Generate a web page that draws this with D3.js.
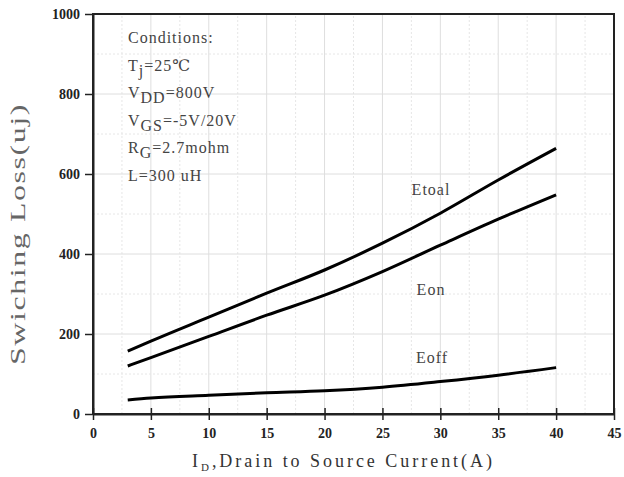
<!DOCTYPE html>
<html>
<head>
<meta charset="utf-8">
<script src="https://cdn.jsdelivr.net/npm/d3@7"></script>
<style>
  body { margin: 0; background: #fff; }
  svg { display: block; }
</style>
</head>
<body>
<svg id="chart" width="624" height="477"></svg>
<script>
// values
var current = [3, 5, 10, 15, 20, 25, 30, 35, 40]
var etotal = [157, 182, 242, 302, 360, 427, 502, 585, 664]
var eon = [120, 141, 194, 247, 297, 356, 422, 487, 548]
var eoff = [35, 40, 47, 53, 58, 67, 81, 97, 116]
var xTicks = [0, 5, 10, 15, 20, 25, 30, 35, 40, 45]
var yTicks = [0, 200, 400, 600, 800, 1000]
var seriesNames = ["Etoal", "Eon", "Eoff"]

var svg = d3.select("#chart")
var width = 624, height = 477
var margin = { top: 14, right: 10, bottom: 63, left: 93 }
var innerW = width - margin.left - margin.right
var innerH = height - margin.top - margin.bottom

var x = d3.scaleLinear().domain([0, 45]).range([margin.left, margin.left + innerW])
var y = d3.scaleLinear().domain([0, 1000]).range([margin.top + innerH, margin.top])

var tickFont = "'Liberation Serif', 'DejaVu Serif', serif"
var textFont = "'Liberation Serif', 'DejaVu Serif', serif"

// grid: solid at major, dotted at half steps
var grid = svg.append("g").attr("class", "grid")
grid.selectAll("line.vx")
    .data(d3.range(2.5, 45, 2.5))
    .enter().append("line")
    .attr("x1", d => x(d)).attr("x2", d => x(d))
    .attr("y1", y(0)).attr("y2", y(1000))
    .attr("stroke", d => d % 5 === 0 ? "#dedede" : "#e6e6e6")
    .attr("stroke-dasharray", d => d % 5 === 0 ? null : "2,2")
    .attr("stroke-width", 1)
grid.selectAll("line.hy")
    .data(d3.range(100, 1000, 100))
    .enter().append("line")
    .attr("x1", x(0)).attr("x2", x(45))
    .attr("y1", d => y(d)).attr("y2", d => y(d))
    .attr("stroke", d => d % 200 === 0 ? "#dedede" : "#e6e6e6")
    .attr("stroke-dasharray", d => d % 200 === 0 ? null : "2,2")
    .attr("stroke-width", 1)

// frame
svg.append("rect")
    .attr("x", x(0)).attr("y", y(1000))
    .attr("width", innerW).attr("height", innerH)
    .attr("fill", "none")
    .attr("stroke", "#222")
    .attr("stroke-width", 2)

// x axis, ticks crossing the line
var xAxis = svg.append("g")
    .attr("transform", "translate(0," + y(0) + ")")
    .call(d3.axisBottom(x).tickValues(xTicks).tickFormat(d3.format("d")).tickSizeInner(6).tickSizeOuter(0).tickPadding(8))
xAxis.select(".domain").attr("stroke", "#222").attr("stroke-width", 2)
xAxis.selectAll(".tick line").attr("y1", -6).attr("stroke", "#222").attr("stroke-width", 1.5)
xAxis.selectAll(".tick text")
    .attr("font-family", tickFont).attr("font-size", 14).attr("font-weight", "bold").attr("fill", "#222")

var yAxis = svg.append("g")
    .attr("transform", "translate(" + x(0) + ",0)")
    .call(d3.axisLeft(y).tickValues(yTicks).tickFormat(d3.format("d")).tickSizeInner(8).tickSizeOuter(0).tickPadding(5))
yAxis.select(".domain").attr("stroke", "#222").attr("stroke-width", 2)
yAxis.selectAll(".tick line").attr("stroke", "#222").attr("stroke-width", 1.5)
yAxis.selectAll(".tick text")
    .attr("font-family", tickFont).attr("font-size", 14).attr("font-weight", "bold").attr("fill", "#222")

// curves
var line = d3.line()
    .x((d, i) => x(current[i]))
    .y(d => y(d))
    .curve(d3.curveMonotoneX)

svg.append("g")
    .selectAll("path")
    .data([etotal, eon, eoff])
    .enter().append("path")
    .attr("d", line)
    .attr("fill", "none")
    .attr("stroke", "#000")
    .attr("stroke-width", 3)

// series labels
var labelPos = [[431, 195], [431, 295], [432, 363]]
svg.append("g")
    .selectAll("text")
    .data(seriesNames)
    .enter().append("text")
    .attr("x", (d, i) => labelPos[i][0])
    .attr("y", (d, i) => labelPos[i][1])
    .attr("text-anchor", "middle")
    .attr("font-family", textFont)
    .attr("font-size", 16)
    .attr("letter-spacing", 1)
    .attr("fill", "#444")
    .text(d => d)

// conditions block
var cond = svg.append("g")
    .attr("font-family", textFont)
    .attr("font-size", 16)
    .attr("letter-spacing", 1)
    .attr("fill", "#444")
var condLines = [
    [["Conditions:", ""]],
    [["T", ""], ["j", "sub"], ["=25℃", ""]],
    [["V", ""], ["DD", "sub"], ["=800V", ""]],
    [["V", ""], ["GS", "sub"], ["=-5V/20V", ""]],
    [["R", ""], ["G", "sub"], ["=2.7mohm", ""]],
    [["L=300 uH", ""]]
]
condLines.forEach(function (parts, i) {
    var t = cond.append("text")
        .attr("x", 128)
        .attr("y", 43 + i * 27.5)
    var shifted = false
    parts.forEach(function (p) {
        var ts = t.append("tspan").text(p[0])
        if (p[1] === "sub") {
            ts.attr("dy", 5)
            shifted = true
        } else if (shifted) {
            ts.attr("dy", -5)
            shifted = false
        }
    })
})

// axis titles
svg.append("text")
    .attr("transform", "translate(25," + (margin.top + innerH / 2 + 20) + ") rotate(-90)")
    .attr("text-anchor", "middle")
    .attr("font-family", textFont)
    .attr("font-size", 20)
    .attr("fill", "#666")
    .attr("letter-spacing", 1)
    .attr("textLength", 262)
    .attr("lengthAdjust", "spacingAndGlyphs")
    .text("Swiching Loss(uj)")

var xTitle = svg.append("text")
    .attr("x", 192)
    .attr("y", 467)
    .attr("font-family", textFont)
    .attr("font-size", 18)
    .attr("fill", "#333")
    .attr("textLength", 300)
    .attr("lengthAdjust", "spacing")
xTitle.append("tspan").text("I")
xTitle.append("tspan").attr("dy", 4).attr("font-size", 11).text("D")
xTitle.append("tspan").attr("dy", -4).text(",Drain to Source Current(A)")
</script>
</body>
</html>
